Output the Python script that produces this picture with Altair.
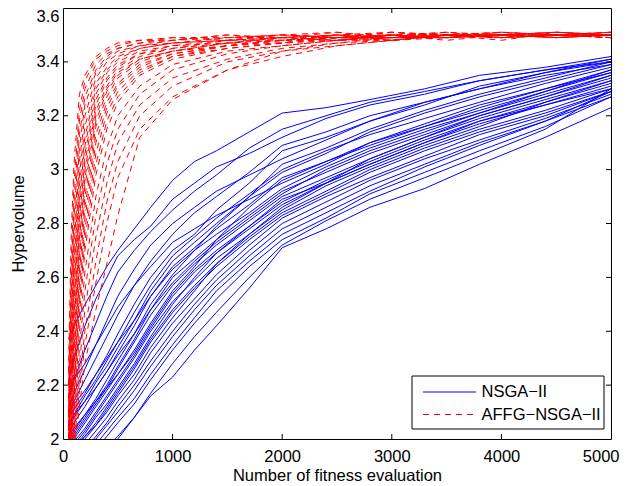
import altair as alt
import pandas as pd

# ---------------- data ----------------
X_NSGA = [50, 100, 200, 300, 400, 500, 650, 800, 1000, 1200, 1400, 1700, 2000, 2400, 2800, 3300, 3800, 4400, 5000]
NSGA_RUNS = [
    [2.37, 2.42, 2.50, 2.57, 2.64, 2.70, 2.78, 2.86, 2.96, 3.03, 3.07, 3.14, 3.21, 3.23, 3.26, 3.30, 3.35, 3.38, 3.42],
    [2.22, 2.30, 2.42, 2.52, 2.60, 2.68, 2.74, 2.79, 2.89, 2.95, 3.01, 3.06, 3.12, 3.19, 3.24, 3.28, 3.33, 3.37, 3.41],
    [2.15, 2.22, 2.33, 2.43, 2.53, 2.62, 2.70, 2.77, 2.85, 2.92, 2.98, 3.08, 3.15, 3.20, 3.25, 3.29, 3.33, 3.37, 3.40],
    [2.12, 2.17, 2.26, 2.35, 2.44, 2.53, 2.63, 2.72, 2.80, 2.86, 2.92, 2.98, 3.04, 3.11, 3.18, 3.25, 3.30, 3.36, 3.41],
    [2.10, 2.14, 2.22, 2.30, 2.38, 2.46, 2.57, 2.66, 2.76, 2.84, 2.90, 2.99, 3.09, 3.14, 3.20, 3.25, 3.30, 3.35, 3.39],
    [2.18, 2.22, 2.28, 2.35, 2.42, 2.49, 2.57, 2.64, 2.73, 2.78, 2.83, 2.89, 2.95, 3.02, 3.10, 3.17, 3.24, 3.30, 3.37],
    [2.08, 2.11, 2.17, 2.24, 2.31, 2.39, 2.50, 2.60, 2.70, 2.76, 2.85, 2.95, 3.07, 3.12, 3.18, 3.24, 3.31, 3.36, 3.40],
    [2.05, 2.09, 2.16, 2.22, 2.29, 2.36, 2.47, 2.57, 2.68, 2.75, 2.82, 2.91, 3.00, 3.07, 3.13, 3.19, 3.25, 3.32, 3.38],
    [2.04, 2.08, 2.14, 2.21, 2.27, 2.34, 2.44, 2.55, 2.66, 2.73, 2.80, 2.90, 2.99, 3.06, 3.14, 3.21, 3.27, 3.33, 3.39],
    [2.02, 2.06, 2.12, 2.19, 2.25, 2.32, 2.42, 2.53, 2.64, 2.71, 2.78, 2.87, 2.97, 3.03, 3.10, 3.16, 3.23, 3.30, 3.36],
    [2.10, 2.13, 2.18, 2.24, 2.30, 2.36, 2.44, 2.53, 2.63, 2.70, 2.76, 2.84, 2.93, 3.01, 3.08, 3.15, 3.21, 3.28, 3.35],
    [2.00, 2.03, 2.09, 2.15, 2.22, 2.29, 2.39, 2.50, 2.61, 2.70, 2.79, 2.90, 3.02, 3.08, 3.15, 3.22, 3.28, 3.34, 3.40],
    [1.99, 2.02, 2.08, 2.14, 2.20, 2.27, 2.37, 2.48, 2.60, 2.67, 2.74, 2.83, 2.92, 2.99, 3.06, 3.13, 3.20, 3.27, 3.34],
    [2.06, 2.09, 2.14, 2.19, 2.25, 2.31, 2.39, 2.48, 2.58, 2.66, 2.73, 2.82, 2.91, 3.00, 3.07, 3.14, 3.21, 3.29, 3.37],
    [1.98, 2.01, 2.07, 2.13, 2.19, 2.26, 2.36, 2.46, 2.57, 2.65, 2.72, 2.81, 2.90, 2.97, 3.04, 3.12, 3.19, 3.26, 3.33],
    [1.97, 2.00, 2.06, 2.12, 2.18, 2.24, 2.33, 2.43, 2.55, 2.64, 2.74, 2.86, 2.96, 3.03, 3.09, 3.16, 3.22, 3.29, 3.36],
    [2.01, 2.04, 2.09, 2.14, 2.19, 2.24, 2.32, 2.42, 2.54, 2.63, 2.70, 2.79, 2.88, 2.96, 3.03, 3.11, 3.18, 3.25, 3.32],
    [1.96, 1.99, 2.04, 2.10, 2.16, 2.22, 2.31, 2.41, 2.53, 2.62, 2.69, 2.78, 2.87, 2.95, 3.02, 3.10, 3.17, 3.24, 3.31],
    [1.95, 1.98, 2.03, 2.09, 2.15, 2.21, 2.30, 2.40, 2.51, 2.59, 2.67, 2.76, 2.85, 2.94, 3.01, 3.09, 3.16, 3.25, 3.33],
    [1.94, 1.97, 2.02, 2.08, 2.13, 2.19, 2.28, 2.38, 2.50, 2.60, 2.69, 2.79, 2.89, 2.95, 3.02, 3.10, 3.18, 3.24, 3.30],
    [1.93, 1.96, 2.01, 2.06, 2.12, 2.18, 2.27, 2.37, 2.48, 2.57, 2.65, 2.75, 2.84, 2.92, 3.00, 3.08, 3.15, 3.22, 3.30],
    [1.92, 1.95, 2.00, 2.05, 2.11, 2.17, 2.26, 2.36, 2.47, 2.56, 2.64, 2.74, 2.83, 2.91, 2.99, 3.07, 3.14, 3.21, 3.29],
    [1.95, 1.97, 2.01, 2.05, 2.10, 2.16, 2.24, 2.34, 2.45, 2.55, 2.65, 2.76, 2.86, 2.95, 3.04, 3.12, 3.20, 3.27, 3.35],
    [1.91, 1.93, 1.98, 2.03, 2.08, 2.14, 2.22, 2.32, 2.43, 2.52, 2.61, 2.72, 2.82, 2.90, 2.97, 3.05, 3.13, 3.20, 3.29],
    [1.90, 1.92, 1.96, 2.01, 2.06, 2.12, 2.20, 2.29, 2.40, 2.50, 2.59, 2.70, 2.80, 2.88, 2.96, 3.04, 3.11, 3.19, 3.28],
    [1.89, 1.91, 1.95, 2.00, 2.05, 2.10, 2.18, 2.27, 2.38, 2.48, 2.57, 2.68, 2.78, 2.86, 2.94, 3.02, 3.10, 3.18, 3.27],
    [1.88, 1.90, 1.94, 1.98, 2.03, 2.08, 2.15, 2.24, 2.35, 2.45, 2.55, 2.66, 2.76, 2.84, 2.92, 3.01, 3.09, 3.18, 3.29],
    [1.87, 1.89, 1.92, 1.96, 2.01, 2.06, 2.13, 2.22, 2.33, 2.43, 2.52, 2.64, 2.74, 2.82, 2.91, 2.99, 3.07, 3.16, 3.27],
    [1.85, 1.87, 1.90, 1.93, 1.97, 2.01, 2.08, 2.17, 2.28, 2.38, 2.47, 2.60, 2.72, 2.81, 2.89, 2.97, 3.05, 3.15, 3.30],
    [1.78, 1.80, 1.83, 1.87, 1.93, 2.00, 2.08, 2.16, 2.23, 2.33, 2.42, 2.56, 2.71, 2.78, 2.86, 2.93, 3.02, 3.12, 3.23],
]

X_AFFG = [50, 75, 100, 150, 200, 300, 400, 500, 700, 1000, 1500, 2000, 2500, 3000, 3500, 4000, 4500, 5000]
AFFG_RUNS = [
    [2.25, 2.76, 3.02, 3.28, 3.35, 3.42, 3.45, 3.47, 3.48, 3.49, 3.49, 3.50, 3.49, 3.51, 3.49, 3.50, 3.51, 3.50],
    [2.20, 2.65, 2.95, 3.22, 3.33, 3.41, 3.44, 3.46, 3.48, 3.48, 3.50, 3.48, 3.50, 3.49, 3.51, 3.49, 3.50, 3.49],
    [2.15, 2.58, 2.88, 3.18, 3.30, 3.39, 3.43, 3.45, 3.47, 3.49, 3.48, 3.50, 3.51, 3.48, 3.50, 3.50, 3.49, 3.50],
    [2.10, 2.52, 2.82, 3.13, 3.27, 3.37, 3.42, 3.45, 3.47, 3.48, 3.49, 3.49, 3.48, 3.50, 3.49, 3.51, 3.50, 3.50],
    [2.08, 2.45, 2.76, 3.08, 3.24, 3.36, 3.41, 3.44, 3.46, 3.48, 3.50, 3.49, 3.50, 3.51, 3.50, 3.49, 3.50, 3.51],
    [2.05, 2.40, 2.70, 3.03, 3.20, 3.34, 3.40, 3.43, 3.46, 3.47, 3.49, 3.50, 3.49, 3.50, 3.48, 3.50, 3.51, 3.50],
    [2.03, 2.35, 2.65, 2.98, 3.16, 3.32, 3.38, 3.42, 3.45, 3.47, 3.48, 3.49, 3.51, 3.49, 3.50, 3.50, 3.49, 3.50],
    [2.00, 2.30, 2.60, 2.94, 3.12, 3.30, 3.37, 3.41, 3.45, 3.47, 3.48, 3.48, 3.49, 3.50, 3.51, 3.49, 3.50, 3.49],
    [1.98, 2.26, 2.55, 2.90, 3.09, 3.28, 3.36, 3.40, 3.44, 3.46, 3.48, 3.49, 3.50, 3.48, 3.50, 3.51, 3.50, 3.50],
    [1.96, 2.22, 2.50, 2.86, 3.06, 3.26, 3.34, 3.39, 3.43, 3.46, 3.47, 3.49, 3.48, 3.50, 3.49, 3.50, 3.50, 3.51],
    [1.95, 2.18, 2.45, 2.82, 3.03, 3.24, 3.33, 3.38, 3.43, 3.45, 3.48, 3.50, 3.49, 3.49, 3.50, 3.48, 3.51, 3.50],
    [1.93, 2.15, 2.41, 2.78, 3.00, 3.22, 3.31, 3.37, 3.42, 3.45, 3.47, 3.48, 3.50, 3.50, 3.49, 3.50, 3.49, 3.50],
    [1.92, 2.12, 2.37, 2.74, 2.97, 3.20, 3.30, 3.36, 3.41, 3.44, 3.47, 3.49, 3.49, 3.51, 3.50, 3.49, 3.50, 3.49],
    [1.90, 2.09, 2.33, 2.70, 2.94, 3.18, 3.29, 3.35, 3.41, 3.44, 3.46, 3.48, 3.49, 3.48, 3.50, 3.50, 3.51, 3.50],
    [1.89, 2.06, 2.29, 2.66, 2.90, 3.16, 3.27, 3.34, 3.40, 3.44, 3.47, 3.47, 3.50, 3.49, 3.49, 3.51, 3.50, 3.50],
    [1.88, 2.04, 2.25, 2.62, 2.86, 3.13, 3.25, 3.32, 3.39, 3.43, 3.46, 3.48, 3.49, 3.50, 3.50, 3.49, 3.50, 3.51],
    [1.87, 2.02, 2.22, 2.58, 2.82, 3.10, 3.23, 3.31, 3.38, 3.43, 3.46, 3.48, 3.48, 3.49, 3.51, 3.50, 3.49, 3.50],
    [1.86, 2.00, 2.19, 2.54, 2.78, 3.06, 3.21, 3.29, 3.37, 3.42, 3.45, 3.47, 3.49, 3.50, 3.49, 3.50, 3.50, 3.50],
    [1.85, 1.98, 2.16, 2.50, 2.74, 3.02, 3.18, 3.27, 3.36, 3.42, 3.46, 3.47, 3.48, 3.50, 3.50, 3.51, 3.49, 3.50],
    [1.84, 1.96, 2.13, 2.46, 2.70, 2.98, 3.15, 3.25, 3.35, 3.41, 3.45, 3.47, 3.49, 3.49, 3.50, 3.50, 3.50, 3.49],
    [1.83, 1.94, 2.10, 2.40, 2.62, 2.90, 3.08, 3.20, 3.31, 3.39, 3.44, 3.46, 3.48, 3.49, 3.49, 3.50, 3.51, 3.50],
    [1.82, 1.92, 2.06, 2.34, 2.55, 2.83, 3.02, 3.15, 3.28, 3.37, 3.43, 3.46, 3.48, 3.48, 3.50, 3.49, 3.50, 3.50],
    [1.80, 1.90, 2.03, 2.28, 2.48, 2.75, 2.95, 3.10, 3.24, 3.34, 3.41, 3.45, 3.47, 3.49, 3.49, 3.50, 3.50, 3.51],
    [1.78, 1.88, 2.00, 2.22, 2.40, 2.66, 2.88, 3.03, 3.20, 3.31, 3.40, 3.44, 3.46, 3.48, 3.50, 3.49, 3.50, 3.50],
    [1.76, 1.86, 1.98, 2.18, 2.35, 2.58, 2.80, 2.97, 3.15, 3.27, 3.37, 3.42, 3.46, 3.48, 3.49, 3.50, 3.49, 3.50],
    [1.75, 1.84, 1.95, 2.12, 2.28, 2.48, 2.65, 2.83, 3.12, 3.26, 3.37, 3.44, 3.47, 3.48, 3.50, 3.49, 3.50, 3.50],
]

X_TICKS = [0, 1000, 2000, 3000, 4000, 5000]
Y_TICKS = [2.0, 2.2, 2.4, 2.6, 2.8, 3.0, 3.2, 3.4, 3.6]
LEGEND_LABELS = ["NSGA\u2212II", "AFFG\u2212NSGA\u2212II"]
X_TITLE = "Number of fitness evaluation"
Y_TITLE = "Hypervolume"

# ---------------- build tables ----------------
rows_b = []
for i, run in enumerate(NSGA_RUNS):
    for x, y in zip(X_NSGA, run):
        rows_b.append({"x": x, "y": y, "run": f"n{i}"})
df_b = pd.DataFrame(rows_b)

rows_r = []
for i, run in enumerate(AFFG_RUNS):
    for x, y in zip(X_AFFG, run):
        rows_r.append({"x": x, "y": y, "run": f"a{i}"})
df_r = pd.DataFrame(rows_r)

xt = pd.DataFrame({"x": X_TICKS[1:-1]})
yt = pd.DataFrame({"y": Y_TICKS[1:-1]})

W, H = 548, 431
FONT = "Liberation Sans"
FS = 16.5
BLUE = "#0000ff"
RED = "#ff0000"
DASH = [6, 5]

xs = alt.Scale(domain=[0, 5000], nice=False, zero=False)
ys = alt.Scale(domain=[2, 3.6], nice=False, zero=False)

x_axis = alt.Axis(
    values=X_TICKS, format="d", title=X_TITLE, ticks=False, grid=False, domain=False,
    labelFont=FONT, labelFontSize=FS, labelColor="black", labelPadding=9, labelFlush=False,
    labelAlign={"condition": {"test": "datum.value == 5000", "value": "right"}, "value": "center"},
    labelOffset={"condition": {"test": "datum.value == 5000", "value": 8}, "value": 0},
    titleFont=FONT, titleFontSize=FS, titleFontWeight="normal", titleColor="black",
    titleBaseline="alphabetic", titleY=41, titleX=W / 2)
y_axis = alt.Axis(
    values=Y_TICKS, format=".1~f", title=Y_TITLE, ticks=False, grid=False, domain=False,
    labelFont=FONT, labelFontSize=FS, labelColor="black", labelPadding=4, labelFlush=False,
    labelBaseline={"condition": {"test": "datum.value >= 3.59", "value": "top"}, "value": "middle"},
    titleFont=FONT, titleFontSize=FS, titleFontWeight="normal", titleColor="black",
    titlePadding=10)

X = alt.X("x:Q", scale=xs, axis=x_axis)
Y = alt.Y("y:Q", scale=ys, axis=y_axis)

blue = alt.Chart(df_b).mark_line(color=BLUE, strokeWidth=1, clip=True).encode(
    x=X, y=Y, detail="run:N")

red = alt.Chart(df_r).mark_line(color=RED, strokeWidth=1, strokeDash=DASH, clip=True).encode(
    x=X, y=Y, detail="run:N")

TL = 5
tick_style = dict(color="black", strokeWidth=1)
xb = alt.Chart(xt).mark_rule(**tick_style).encode(x=X, y=alt.value(H), y2=alt.value(H - TL))
xtp = alt.Chart(xt).mark_rule(**tick_style).encode(x=X, y=alt.value(0), y2=alt.value(TL))
yl = alt.Chart(yt).mark_rule(**tick_style).encode(y=Y, x=alt.value(0), x2=alt.value(TL))
yr = alt.Chart(yt).mark_rule(**tick_style).encode(y=Y, x=alt.value(W - TL), x2=alt.value(W))

# legend (drawn by hand, lower right inside the plot)
leg = pd.DataFrame({"label": LEGEND_LABELS})
lx0, lx1, ly0, ly1 = 349, 541, 368, 421
box = alt.Chart(leg.head(1)).mark_rect(fill="white", stroke="black", strokeWidth=1).encode(
    x=alt.value(lx0), x2=alt.value(lx1), y=alt.value(ly0), y2=alt.value(ly1))
lb = alt.Chart(leg.head(1)).mark_rule(color=BLUE, strokeWidth=1).encode(
    x=alt.value(360), x2=alt.value(413), y=alt.value(384))
lr = alt.Chart(leg.head(1)).mark_rule(color=RED, strokeWidth=1, strokeDash=DASH).encode(
    x=alt.value(360), x2=alt.value(413), y=alt.value(406.5))
lt1 = alt.Chart(leg.iloc[[0]]).mark_text(align="left", baseline="middle", font=FONT,
                                           fontSize=FS, color="black").encode(
    x=alt.value(418.5), y=alt.value(384), text="label:N")
lt2 = alt.Chart(leg.iloc[[1]]).mark_text(align="left", baseline="middle", font=FONT,
                                           fontSize=FS, color="black").encode(
    x=alt.value(418.5), y=alt.value(406.5), text="label:N")

chart = alt.layer(blue, red, xb, xtp, yl, yr, box, lb, lr, lt1, lt2).properties(
    width=W, height=H,
    autosize=alt.AutoSizeParams(type="none"),
    padding={"left": 55, "top": 0, "right": 9, "bottom": 44},
    background="white",
).configure_view(stroke="black", strokeWidth=1)

chart.save("out.html", embed_options={"renderer": "svg", "actions": False})
